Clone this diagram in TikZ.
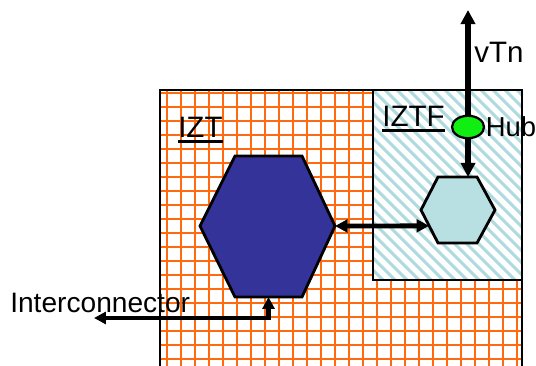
\documentclass[tikz,border=0pt]{standalone}
\usepackage{fontspec}
\setmainfont{Liberation Sans}
\usetikzlibrary{arrows.meta, positioning, calc, shapes.geometric}
\definecolor{gridorange}{HTML}{FF6A10}
\definecolor{hexblue}{HTML}{333399}
\definecolor{hexcyan}{HTML}{B8DFE2}
\definecolor{hatchblue}{HTML}{AFDADF}
\definecolor{hubgreen}{HTML}{11EE11}

\begin{document}
\begin{tikzpicture}[x=0.025cm, y=-0.025cm,
  box/.style={draw=black, line width=1.8pt},
  gridline/.style={draw=gridorange, line width=1.15pt},
  hatch/.style={draw=hatchblue, line width=2.1pt},
  hex/.style={draw=black, line width=2pt, fill=#1, line join=miter},
  link/.style={draw=black, line width=#1},
  lbl/.style={font=\fontsize{21}{24}\selectfont, inner sep=0pt},
  uline/.style={draw=black, line width=1.8pt},
  hub/.style={ellipse, draw=black, line width=1.6pt, fill=hubgreen,
              minimum width=0.8cm, minimum height=0.56cm, inner sep=0pt},
]
\useasboundingbox (0,0) rectangle (536,366);

%% IZT area (orange grid)
\begin{scope}
  \clip (160,90) rectangle (522,380);
  \foreach \x in {167,181,...,522} \draw[gridline] (\x,90) -- (\x,380);
  \foreach \y in {93,107,...,380} \draw[gridline] (160,\y) -- (522,\y);
\end{scope}
\draw[box] (160,380) -- (160,90) -- (522,90) -- (522,380);

%% IZTF area (hatched)
\fill[white] (373,90) rectangle (522,280);
\begin{scope}
  \clip (373,90) rectangle (522,280);
  \foreach \x in {181,193,...,530} \draw[hatch] (\x,90) -- ++(190,190);
\end{scope}
\draw[box] (373,90) rectangle (522,280);

%% Hexagons
\draw[hex=hexblue] (200,226) coordinate (bigL) -- (235,156) coordinate (bigTL)
  -- (302,156) coordinate (bigTR) -- (335,226) coordinate (bigR)
  -- (302,297) coordinate (bigBR) -- (235,297) coordinate (bigBL) -- cycle;
\draw[hex=hexcyan] (421,210) coordinate (smL) -- (438,177) coordinate (smTL)
  -- (477,177) coordinate (smTR) -- (495,210) coordinate (smR)
  -- (477,243) coordinate (smBR) -- (438,243) coordinate (smBL) -- cycle;

%% Labels
\node[lbl, anchor=base west] (izt) at (178,138) {IZT};
\draw[uline] ([yshift=-2.5pt]izt.base west) -- ([yshift=-2.5pt]izt.base east);
\node[lbl, anchor=base west] (iztf) at (382,127) {IZTF};
\draw[uline] ([yshift=-2.5pt]iztf.base west) -- ([yshift=-2.5pt]iztf.base east);
\node[lbl, anchor=base west] (vtn) at (474,63) {vTn};
\node[lbl, font=\fontsize{20}{24}\selectfont, anchor=base west] (ic) at (10,312)
  {Interconnector};

%% Connectors
\coordinate (vTop) at (468,10);
\coordinate (icEnd) at (94,318);
\draw[link=4pt, {Triangle[length=10pt, width=10pt]}-{Triangle[length=10pt, width=10pt]}]
  (vTop) -- ($(smTL)!0.77!(smTR)$);
\draw[link=3.4pt, {Triangle[length=9pt, width=9pt]}-{Triangle[length=9pt, width=9pt]}]
  (bigR) -- ($(smL)!0.48!(smBL)$);
\draw[link=3pt, {Triangle[length=8.5pt, width=8.5pt]}-{Triangle[length=8.5pt, width=8.5pt]}]
  ($(bigBL)!0.5!(bigBR)$) |- (icEnd);

%% Hub
\node[hub] (hub) at (468,127) {};
\node[lbl, font=\fontsize{19.5}{23}\selectfont, right=0.01cm of hub] (hubLbl) {Hub};
\end{tikzpicture}
\end{document}
